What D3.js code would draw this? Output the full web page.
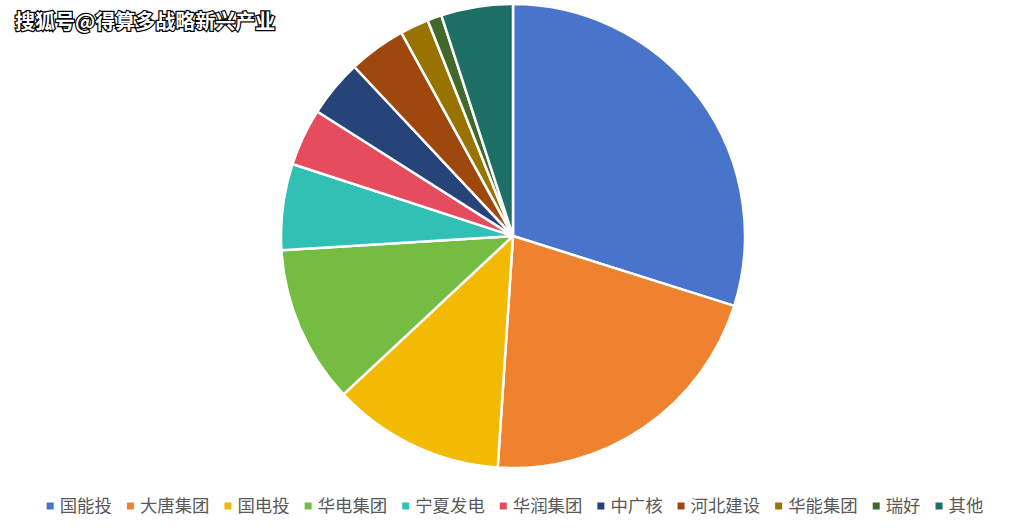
<!DOCTYPE html>
<html><head><meta charset="utf-8">
<script src="https://cdn.jsdelivr.net/npm/d3@7"></script>
<style>body{margin:0;background:#fff;}svg{display:block;}</style>
</head><body>
<svg id="c" width="1029" height="528"></svg>
<script>
const categories = ["国能投","大唐集团","国电投","华电集团","宁夏发电","华润集团","中广核","河北建设","华能集团","瑞好","其他"];
const values = [29.9, 21.2, 12.0, 11.0, 6.0, 4.0, 4.0, 4.0, 2.0, 1.0, 5.0];
const colors = ["#4874CB","#EE822F","#F2BA02","#75BD42","#30C0B4","#E54C5E","#264478","#9E480E","#997300","#43682B","#1E7066"];
const title = "搜狐号@得算多战略新兴产业";

const svg = d3.select("#c");
const cx = 513, cy = 236, r = 232;
const pie = d3.pie().sort(null).value(d => d)(values);
const arc = d3.arc().innerRadius(0).outerRadius(r);
svg.append("g").attr("transform", `translate(${cx},${cy})`)
  .selectAll("path").data(pie).join("path")
  .attr("d", arc).attr("fill", (d,i) => colors[i])
  .attr("stroke", "#fff").attr("stroke-width", 2.5).attr("stroke-linejoin","round");

// title
svg.append("text").attr("x", 15).attr("y", 29)
  .attr("font-family", "'Noto Sans CJK SC', sans-serif").attr("font-weight", "bold")
  .attr("font-size", 20).attr("fill", "#fff").attr("stroke", "#000").attr("stroke-width", 2.5)
  .attr("paint-order", "stroke").text(title);

// legend
const lg = svg.append("g");
const fs = 17.4, ly = 506;
const items = lg.selectAll("g").data(categories).join("g");
items.append("rect").attr("width", 7).attr("height", 7).attr("y", -3.5).attr("fill", (d,i) => colors[i]);
const texts = items.append("text").attr("x", 13).attr("dy", "0.35em")
  .attr("font-family", "'Noto Sans CJK SC', sans-serif").attr("font-size", fs).attr("fill", "#595959").text(d => d);
let x = 0; const xs = [];
texts.each(function(){ xs.push(x); x += 13 + this.getComputedTextLength() + 15; });
const total = x - 15;
const x0 = 515 - total/2;
items.attr("transform", (d,i) => `translate(${x0 + xs[i]},${ly})`);
</script>
</body></html>
